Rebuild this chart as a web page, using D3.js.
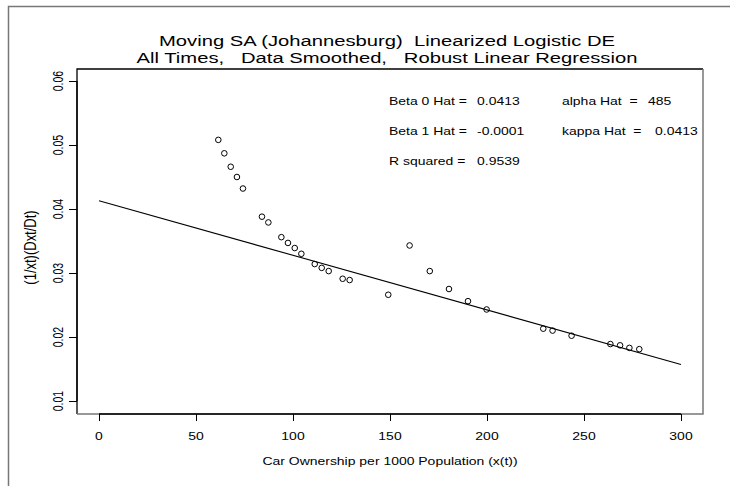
<!DOCTYPE html>
<html>
<head>
<meta charset="utf-8">
<script src="https://cdn.jsdelivr.net/npm/d3@7"></script>
<style>
body { margin: 0; background: #fff; }
text { font-family: "Liberation Sans", Arial, sans-serif; fill: #000; white-space: pre; }
</style>
</head>
<body>
<div id="chart"></div>
<script>
// smoothed data points (car ownership vs growth rate)
var carOwnership = [61.5, 64.6, 67.9, 71.1, 74.2, 84.0, 87.3, 94.0, 97.4, 100.9, 104.3,
    111.2, 114.8, 118.4, 125.6, 129.2, 149.1, 160.1, 170.5, 180.4, 190.2, 199.8,
    229.0, 233.8, 243.6, 263.6, 268.6, 273.4, 278.5]
var growthRate = [0.0508, 0.0487, 0.0466, 0.0450, 0.0432, 0.0388, 0.0379, 0.0356, 0.0347, 0.0339, 0.0330,
    0.0314, 0.0308, 0.0303, 0.0291, 0.0289, 0.0266, 0.0343, 0.0303, 0.0275, 0.0256, 0.0243,
    0.0213, 0.0210, 0.0202, 0.0189, 0.0187, 0.0183, 0.0181]
// robust regression line end points
var fitX = [0, 300]
var fitY = [0.0413, 0.0157]
var xTicks = [0, 50, 100, 150, 200, 250, 300]
var yTicks = [0.01, 0.02, 0.03, 0.04, 0.05, 0.06]
var titleLines = ["Moving SA (Johannesburg)  Linearized Logistic DE",
    "All Times,   Data Smoothed,   Robust Linear Regression"]
var statLabels = ["Beta 0 Hat =", "Beta 1 Hat =", "R squared ="]
var statValues = ["0.0413", "-0.0001", "0.9539"]
var paramLabels = ["alpha Hat  =", "kappa Hat  ="]
var paramValues = ["485", "0.0413"]

var W = 730, H = 486
var box = {left: 77, right: 703, top: 69, bottom: 414}
var sx = 1.33 // text in the picture is drawn wide

var svg = d3.select("#chart").append("svg")
    .attr("width", W).attr("height", H)

// outer frame
svg.append("path")
    .attr("d", "M8.5," + H + "V6.5H" + W)
    .attr("fill", "none").attr("stroke", "#777").attr("stroke-width", 1.5)

var x = d3.scaleLinear().domain([0, 300]).range([99, 681])
var y = d3.scaleLinear().domain([0.01, 0.06]).range([401, 81])

function addText(px, py, str, size, anchor, rot) {
    return svg.append("text")
        .attr("transform", "translate(" + px + "," + py + ") scale(" + sx + ",1)" + (rot ? " rotate(" + rot + ")" : ""))
        .attr("text-anchor", anchor)
        .style("font-size", size + "px")
        .text(str)
}

// plot box: top/left dark, right/bottom grey
svg.append("path")
    .attr("d", "M" + box.right + "," + box.top + "H" + box.left + "V" + box.bottom)
    .attr("fill", "none").attr("stroke", "#000").attr("stroke-width", 1.3)
svg.append("path")
    .attr("d", "M" + box.left + "," + box.bottom + "H" + box.right + "V" + box.top)
    .attr("fill", "none").attr("stroke", "#777").attr("stroke-width", 1.5)

// x axis
var xAxis = svg.append("g")
    .attr("transform", "translate(0," + box.bottom + ")")
    .call(d3.axisBottom(x).tickValues(xTicks).tickSize(7).tickFormat(""))
xAxis.select(".domain").attr("d", "M" + x(0) + ",0H" + x(300)).attr("stroke-width", 1.3)
xTicks.forEach(function(t) { addText(x(t), 440, t, 10.5, "middle") })
addText((box.left + box.right) / 2, 465, "Car Ownership per 1000 Population (x(t))", 10.5, "middle")

// y axis
var yAxis = svg.append("g")
    .attr("transform", "translate(" + box.left + ",0)")
    .call(d3.axisLeft(y).tickValues(yTicks).tickSize(8).tickFormat(""))
yAxis.select(".domain").attr("d", "M0," + y(0.01) + "V" + y(0.06)).attr("stroke-width", 1.3)
yTicks.forEach(function(t) { addText(63, y(t), d3.format(".2f")(t), 10.5, "middle", -90) })
addText(36, (box.top + box.bottom) / 2 + 6, "(1/xt)(Dxt/Dt)", 13, "middle", -90)

// title
titleLines.forEach(function(s, i) {
    addText((box.left + box.right) / 2 - 3, 46 + i * 17, s, 15.2, "middle")
})

// regression line
var line = d3.line().x(function(d) { return x(d[0]) }).y(function(d) { return y(d[1]) })
svg.append("path")
    .datum(d3.zip(fitX, fitY))
    .attr("d", line)
    .attr("fill", "none").attr("stroke", "#000").attr("stroke-width", 1.1)

// points
svg.selectAll("circle.pt")
    .data(d3.zip(carOwnership, growthRate))
    .enter().append("circle")
    .attr("class", "pt")
    .attr("cx", function(d) { return x(d[0]) })
    .attr("cy", function(d) { return y(d[1]) })
    .attr("r", 2.8)
    .attr("fill", "none").attr("stroke", "#000").attr("stroke-width", 1)

// estimates
statLabels.forEach(function(s, i) {
    addText(389, 105 + i * 30, s, 10.5, "start")
    addText(477, 105 + i * 30, statValues[i], 10.5, "start")
})
paramLabels.forEach(function(s, i) {
    addText(562, 105 + i * 30, s, 10.5, "start")
    addText(i == 0 ? 648 : 655, 105 + i * 30, paramValues[i], 10.5, "start")
})
</script>
</body>
</html>
